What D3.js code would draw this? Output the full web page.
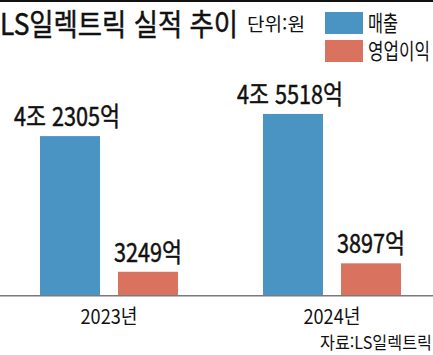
<!DOCTYPE html>
<html lang="ko">
<head>
<meta charset="UTF-8">
<title>LS일렉트릭 실적 추이</title>
<script src="https://d3js.org/d3.v7.min.js"></script>
<style>
    body { margin: 0; background: #fff; }
    svg text { font-family: "Noto Sans CJK KR", "Noto Sans", sans-serif; fill: #111; }
    .heavy { stroke: #111; stroke-width: 0.5px; }
</style>
</head>
<body>
<div id="chart"></div>
<script>
// data
const years = ["2023년", "2024년"];
const series = ["매출", "영업이익"];
const sales = [42305, 45518];      // 억원
const profit = [3249, 3897];       // 억원
const salesLabels = ["4조 2305억", "4조 5518억"];
const profitLabels = ["3249억", "3897억"];
const colors = ["#4a94c4", "#d9725f"];

const width = 433, height = 355;
const baseY = 295;

const svg = d3.select("#chart").append("svg")
    .attr("width", width)
    .attr("height", height);

// condensed-looking text helper
function label(x, y, txt, size, len, anchor) {
    return svg.append("text")
        .attr("x", x).attr("y", y)
        .attr("text-anchor", anchor || "start")
        .attr("textLength", len)
        .attr("lengthAdjust", "spacingAndGlyphs")
        .style("font-size", size + "px")
        .text(txt);
}

// top rule
svg.append("rect").attr("x", 0).attr("y", 0).attr("width", width).attr("height", 2).attr("fill", "#111");

// title + unit
label(0, 35, "LS일렉트릭 실적 추이", 30, 238).attr("class", "heavy");
label(247, 31, "단위:원", 18, 58);

// legend
series.forEach((s, i) => {
    svg.append("rect")
        .attr("x", 325).attr("y", 12 + i * 28)
        .attr("width", 38).attr("height", 22)
        .attr("fill", colors[i]);
    label(368, 31 + i * 28, s, 22, i === 0 ? 30 : 62);
});

// broken (piecewise) scale like the infographic
const y = d3.scaleLinear()
    .domain([0, 3000, 4000, 40000, 50000])
    .range([baseY, baseY - 20, baseY - 33, baseY - 143, baseY - 212]);

const x0 = d3.scaleBand().domain(years).range([40, 401]).paddingInner(0.381);
const x1 = d3.scaleBand().domain(series).range([0, x0.bandwidth()]).paddingInner(0.2308);

const rows = years.map((yr, i) => ({
    year: yr,
    vals: [
        { key: series[0], v: sales[i], lab: salesLabels[i] },
        { key: series[1], v: profit[i], lab: profitLabels[i] }
    ]
}));

const g = svg.selectAll(".grp").data(rows).enter().append("g")
    .attr("transform", d => `translate(${x0(d.year)},0)`);

g.selectAll("rect").data(d => d.vals).enter().append("rect")
    .attr("x", d => x1(d.key))
    .attr("y", d => y(d.v))
    .attr("width", x1.bandwidth())
    .attr("height", d => baseY - y(d.v))
    .attr("fill", (d, i) => colors[i]);

g.selectAll(".val").data(d => d.vals).enter().append("text")
    .attr("class", "val heavy")
    .attr("x", d => x1(d.key) + x1.bandwidth() / 2 + (d.key === series[0] ? -3 : 0))
    .attr("y", d => y(d.v) - 10)
    .attr("text-anchor", "middle")
    .attr("textLength", d => d.key === series[0] ? 106 : 68)
    .attr("lengthAdjust", "spacingAndGlyphs")
    .style("font-size", "26px")
    .text(d => d.lab);

// baseline
svg.append("line")
    .attr("x1", 0).attr("x2", width)
    .attr("y1", baseY + 0.75).attr("y2", baseY + 0.75)
    .attr("stroke", "#7a7a7a").attr("stroke-width", 1.5);

// year labels
g.append("text")
    .attr("x", x0.bandwidth() / 2)
    .attr("y", 324)
    .attr("text-anchor", "middle")
    .attr("textLength", 57)
    .attr("lengthAdjust", "spacingAndGlyphs")
    .style("font-size", "20px")
    .text(d => d.year);

// source
label(432, 349, "자료:LS일렉트릭", 17, 112, "end");
</script>
</body>
</html>
